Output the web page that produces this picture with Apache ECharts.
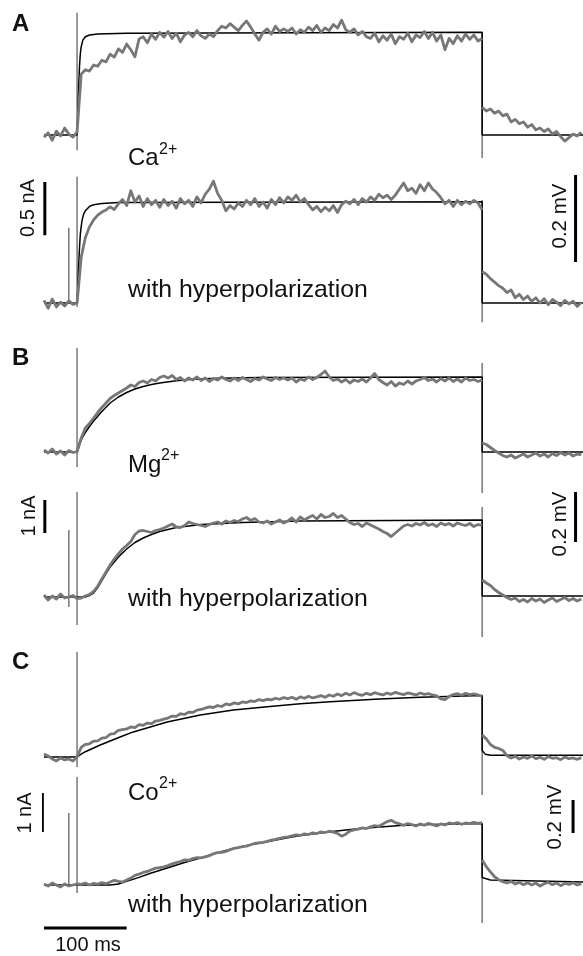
<!DOCTYPE html>
<html><head><meta charset="utf-8">
<script src="https://cdn.jsdelivr.net/npm/echarts@6/dist/echarts.min.js"></script>
<style>html,body{margin:0;padding:0;background:#fff}#c{width:583px;height:956px}</style>
</head><body><div id="c"></div>
<script>
// time axis: ms relative to pulse onset; sampled traces start at -40 ms, 5 ms step
const T0 = -40, DT = 5, T_OFF = 490;
// voltage in µV relative to baseline
const a1Main = [-5,5,-12,9,-2,16,2,-5,7,
 140,150,147,161,158,172,168,186,179,198,
 190,209,196,180,221,226,212,232,220,236,
 225,238,222,234,214,230,236,226,240,228,
 222,232,226,240,250,246,256,248,240,252,
 262,248,232,218,236,244,232,250,238,244,
 238,246,232,242,236,248,240,252,236,246,
 240,254,246,264,242,236,244,230,238,226,
 222,234,214,228,218,232,210,226,220,234,
 214,230,224,238,222,236,216,230,196,222,
 210,228,216,232,220,230,216,222];
const a1After = [64,55,60,50,55,44,48,30,36,26,30,18,24,12,16,8,14,2,8,-4,-14,-6,2,-2,6];
const a1Fit = [[-40,0],[0,0],[1,50],[2,115],[3,160],[4,188],[5,203],[7,218],[10,226],[15,230],[25,232],[60,234],[490,236],[490,0],[612,0]];
const a1Art = [[0,-35,281],[490,-53,237]];

const a2Main = [6,-12,9,-9,2,-7,5,-3,0,
 105,150,175,191,202,209,214,221,215,228,
 238,224,258,232,246,222,240,226,236,220,
 238,224,234,218,240,228,236,222,244,230,
 250,262,280,252,236,212,224,216,230,222,
 236,226,240,222,232,218,238,226,242,230,
 244,236,248,232,240,226,214,222,210,220,
 212,224,208,226,234,228,238,226,240,232,
 244,236,250,242,248,238,248,262,276,258,
 264,252,272,258,276,262,254,242,228,236,
 222,236,226,234,228,236,230,214];
const a2After = [72,66,56,48,40,34,24,30,12,20,8,16,4,12,0,10,-4,8,2,-6,6,-2,4,-8,2];
const a2Fit = [[-40,0],[0,0],[1,40],[2,90],[3,130],[4,160],[6,190],[8,205],[10,212],[15,222],[20,226],[30,229],[50,231],[490,233],[490,0],[612,0]];
const a2Art = [[-10,0,173],[0,-9,290],[490,-44,237]];

const b1Main = [8,-4,12,-8,4,-12,6,-2,2,
 56,96,114,136,158,178,196,214,226,236,
 246,256,268,262,278,284,276,290,284,298,
 304,296,306,290,298,284,296,288,300,286,
 296,282,294,288,300,290,284,296,286,298,
 290,282,294,288,300,292,286,298,290,296,
 288,296,280,292,286,300,290,298,310,324,
 300,286,292,280,290,276,288,282,292,280,
 296,314,290,278,268,282,264,276,270,284,
 272,284,290,298,286,292,280,294,284,296,
 282,292,280,296,286,290,282,288];
const b1After = [36,30,18,6,-4,-14,-20,-12,-24,-16,-8,-20,-12,-4,-16,-8,-20,-6,-14,-2,-12,-4,-16,-8,-10];
const b1Fit = [[-40,0],[0,0],[5,48],[10,78],[15,102],[20,124],[30,162],[40,196],[50,220],[60,238],[70,252],[80,262],[90,270],[100,276],[120,285],[140,291],[170,295],[220,298],[490,300],[490,0],[612,0]];
const b1Art = [[0,-60,416],[490,-164,356]];

const b2Main = [8,-12,4,-8,12,-4,0,6,-6,
 -4,4,10,22,44,72,100,128,152,172,
 192,206,222,250,264,266,262,258,266,270,
 276,284,292,280,278,286,300,294,290,286,
 282,290,296,300,292,304,298,306,302,312,
 318,306,314,300,296,304,292,300,308,296,
 304,316,300,320,308,318,326,312,330,318,
 322,334,318,326,312,298,290,294,282,296,
 288,280,272,262,254,242,256,270,284,290,
 284,294,288,298,286,292,282,296,288,294,
 284,296,290,286,294,282,290,286];
const b2After = [68,56,46,30,18,8,-2,-10,-4,-18,-10,-20,-6,-16,-8,-22,-12,-4,-18,-10,-2,-14,-6,-16,-8];
const b2Fit = [[-40,0],[10,0],[15,6],[20,16],[25,38],[30,66],[35,94],[40,120],[50,160],[60,192],[70,218],[80,236],[90,250],[100,262],[120,278],[150,290],[200,298],[270,304],[490,308],[490,4],[612,4]];
const b2Art = [[-10,-40,268],[0,-112,420],[490,-160,360]];

const c1Main = [18,6,-12,-24,-6,-18,-12,-24,0,
 58,76,80,96,98,114,118,138,142,162,
 166,170,182,178,196,192,206,202,218,222,
 230,236,248,246,262,258,272,270,284,288,
 296,304,300,312,306,322,316,328,322,334,
 330,340,336,348,342,350,346,356,350,360,
 354,362,350,364,356,368,358,364,372,362,
 376,368,382,372,386,376,390,380,374,386,
 378,390,382,376,388,380,392,384,378,388,
 382,376,388,380,384,376,370,352,348,366,
 378,384,374,386,378,382,376,368];
const c1After = [133,110,76,58,52,40,8,-6,4,-12,0,-8,6,-10,-2,-14,2,-8,-4,-16,0,-10,-6,-14,-4];
const c1Fit = [[-40,0],[0,0],[5,18],[10,32],[28,73],[52,121],[68,152],[109,212],[149,255],[189,285],[230,305],[270,322],[306,335],[366,352],[415,362],[490,372],[490,40],[494,16],[500,10],[612,10]];
const c1Art = [[0,-61,636],[490,-230,376]];

const c2Main = [6,-6,12,0,-12,6,-6,0,6,
 4,12,0,10,6,14,8,18,28,22,
 18,30,42,58,66,76,82,92,102,106,
 110,118,128,136,142,152,150,160,166,164,
 170,178,190,196,198,204,214,222,226,232,
 236,244,252,256,258,264,272,276,282,288,
 292,298,304,300,310,306,316,312,322,318,
 326,320,312,296,308,326,334,338,346,342,
 352,360,356,370,384,392,378,370,362,372,
 366,358,370,362,374,366,358,370,364,376,
 370,378,368,376,372,380,374,378];
const c2After = [152,112,80,50,32,20,12,22,6,16,2,14,0,12,-6,8,16,2,12,-4,10,4,14,0,8];
const c2Fit = [[-40,0],[40,0],[50,6],[60,22],[75,46],[88,70],[109,103],[130,136],[149,164],[170,196],[189,222],[210,244],[230,262],[250,282],[270,300],[306,322],[342,342],[391,360],[427,366],[490,372],[490,45],[500,30],[612,18]];
const c2Art = [[-10,0,436],[0,-48,654],[490,-230,376]];

// scale bars: [panelIndex, t1, v1, t2, v2]
const scaleBars = [
 [1,603,94,603,294],   // 0.2 mV (A)
 [3,603,220,603,420],  // 0.2 mV (B)
 [5,600,315,600,515],  // 0.2 mV (C)
 [1,-39,156,-39,278],  // 0.5 nA
 [3,-39,256,-39,388],  // 1 nA
 [5,-42,321,-42,558],  // 1 nA
 [5,-40,-261,60,-261]  // 100 ms
];

// layout (pixels)
const panels = [
 {base:135,k:0.435,top:0,bottom:165,main:a1Main,after:a1After,fit:a1Fit,art:a1Art},
 {base:303,k:0.435,top:165,bottom:330,main:a2Main,after:a2After,fit:a2Fit,art:a2Art},
 {base:452,k:0.25,top:330,bottom:480,main:b1Main,after:b1After,fit:b1Fit,art:b1Art},
 {base:597,k:0.25,top:480,bottom:640,main:b2Main,after:b2After,fit:b2Fit,art:b2Art},
 {base:757,k:0.165,top:640,bottom:775,main:c1Main,after:c1After,fit:c1Fit,art:c1Art},
 {base:885,k:0.165,top:775,bottom:956,main:c2Main,after:c2After,fit:c2Fit,art:c2Art}
];

const GRAY = '#777777';
const grid=[], xAxis=[], yAxis=[], series=[];
panels.forEach((p,i)=>{
  grid.push({left:44,width:539,top:p.top,height:p.bottom-p.top});
  xAxis.push({type:'value',gridIndex:i,min:-40,max:612,show:false});
  yAxis.push({type:'value',gridIndex:i,min:(p.base-p.bottom)/p.k,max:(p.base-p.top)/p.k,show:false});
  const common = {type:'line',xAxisIndex:i,yAxisIndex:i,showSymbol:false,symbol:'none',clip:false,animation:false,silent:true};
  p.art.forEach(a=>{
    series.push(Object.assign({},common,{data:[[a[0],a[1]],[a[0],a[2]]],lineStyle:{color:'#808080',width:1.6},z:1}));
  });
  series.push(Object.assign({},common,{data:p.fit,lineStyle:{color:'#000',width:1.5},z:2}));
  series.push(Object.assign({},common,{data:p.main.map((v,j)=>[T0+DT*j,v]),lineStyle:{color:GRAY,width:2.8,join:'round'},z:3}));
  series.push(Object.assign({},common,{data:p.after.map((v,j)=>[T_OFF+DT*j,v]),lineStyle:{color:GRAY,width:2.8,join:'round'},z:3}));
});
scaleBars.forEach(b=>{
  series.push({type:'line',xAxisIndex:b[0],yAxisIndex:b[0],showSymbol:false,symbol:'none',clip:false,animation:false,silent:true,
    data:[[b[1],b[2]],[b[3],b[4]]],lineStyle:{color:'#000',width:3,cap:'butt'},z:4});
});

const F = '"Liberation Sans", Arial, Helvetica, sans-serif';
function txt(text,x,y,size,opts){
  opts=opts||{};
  return {type:'text',x:x,y:y,rotation:opts.rot||0,z:10,
    style:{text:text,font:(opts.bold?'bold ':'')+size+'px '+F,fill:'#111',
      align:opts.align||'left',verticalAlign:'middle'}};
}
const graphic = [
  txt('A',12,24,24,{bold:true}),
  txt('B',12,358,24,{bold:true}),
  txt('C',12,662,24,{bold:true}),
  txt('Ca',128,158,24), txt('2+',159,150,16),
  txt('Mg',128,465,24), txt('2+',161,456,16),
  txt('Co',128,793,24), txt('2+',159,784,16),
  txt('with hyperpolarization',128,290,24.8),
  txt('with hyperpolarization',128,599,24.8),
  txt('with hyperpolarization',128,905,24.8),
  txt('0.5 nA',28,208,20,{rot:Math.PI/2,align:'center'}),
  txt('1 nA',29,516,20,{rot:Math.PI/2,align:'center'}),
  txt('1 nA',25,813,20,{rot:Math.PI/2,align:'center'}),
  txt('0.2 mV',560,216,20.5,{rot:Math.PI/2,align:'center'}),
  txt('0.2 mV',560,524,20.5,{rot:Math.PI/2,align:'center'}),
  txt('0.2 mV',555,817,20.5,{rot:Math.PI/2,align:'center'}),
  txt('100 ms',88,945,20,{align:'center'})
];

const chart = echarts.init(document.getElementById('c'),null,{renderer:'canvas'});
chart.setOption({animation:false,backgroundColor:'#fff',grid,xAxis,yAxis,series,graphic});
</script></body></html>
